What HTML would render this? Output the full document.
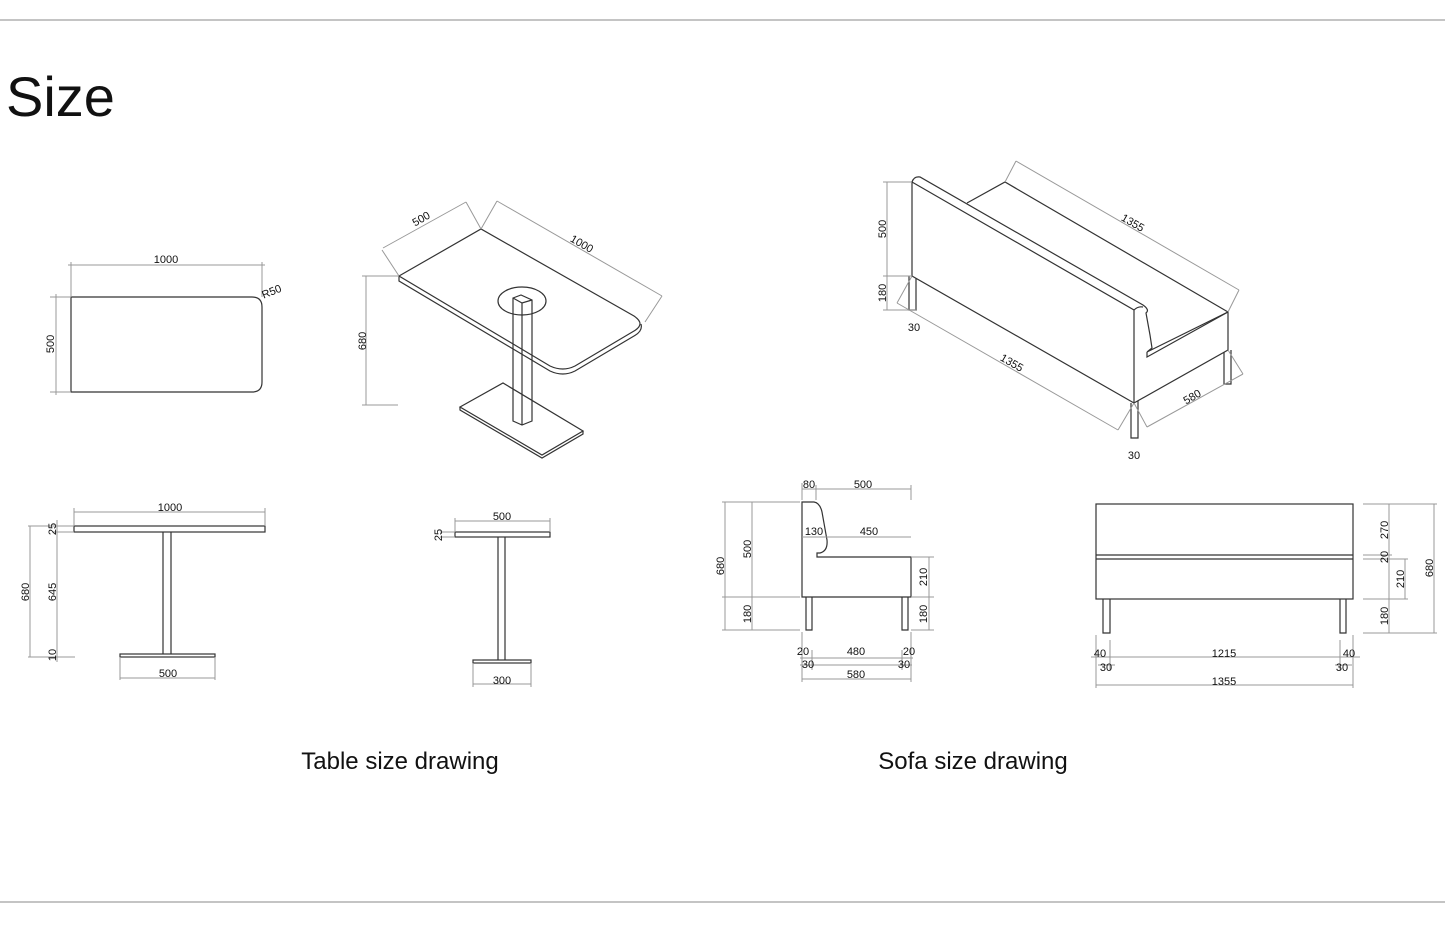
<!DOCTYPE html>
<html><head><meta charset="utf-8"><style>
html,body{margin:0;padding:0;background:#fff}
svg{display:block}
text{font-family:"Liberation Sans",sans-serif;fill:#111}
.d{stroke:#999;stroke-width:1;fill:none}
.o{stroke:#333;stroke-width:1.2;fill:none}
.t{font-size:11px}
</style></head><body>
<svg width="1445" height="935" viewBox="0 0 1445 935" xmlns="http://www.w3.org/2000/svg">
<line x1="0" y1="20" x2="1445" y2="20" stroke="#888"/>
<line x1="0" y1="902" x2="1445" y2="902" stroke="#888"/>
<text x="6" y="116" style="font-size:56px">Size</text>

<!-- plan table -->
<path class="o" d="M71 297 H252 Q262 297 262 307 V382 Q262 392 252 392 H71 Z"/>
<path class="d" d="M71 262 V297 M262 262 V297 M68 265 H265 M50 297 H71 M50 392 H71 M56 294 V395"/>
<text class="t" x="166" y="263" text-anchor="middle">1000</text>
<text class="t" transform="translate(54,344) rotate(-90)" text-anchor="middle">500</text>
<text class="t" transform="translate(273,295) rotate(-22)" text-anchor="middle">R50</text>

<!-- iso table -->
<path class="o" d="M399 276 L481 229 L634 316 Q646 324 634 331 L575 366 Q563 372 550 366 Z"/>
<path class="o" d="M399 276 V281 L550 371 Q563 377 575 371 L634 336 Q643 331 641 324"/>
<ellipse class="o" cx="522" cy="301" rx="24" ry="14"/>
<path class="o" d="M513 298 L521 295 L532 300 V421 L522 425 L513 421 Z M522 303 V425 M513 298 L522 303 L532 300"/>
<path class="o" d="M460 407 L503 383 L583 431 L542 455 Z M460 407 V410 L542 458 L583 434 V431"/>
<path class="d" d="M366 276 V405 M362 276 H399 M362 405 H398 M382 250 L399 276 M383 248 L466 202 M466 202 L481 229 M481 229 L497 201 M497 201 L662 296 M662 296 L645 322"/>
<text class="t" transform="translate(366,341) rotate(-90)" text-anchor="middle">680</text>
<text class="t" transform="translate(423,222) rotate(-30)" text-anchor="middle">500</text>
<text class="t" transform="translate(580,247) rotate(30)" text-anchor="middle">1000</text>

<!-- front table -->
<rect class="o" x="74" y="526" width="191" height="6"/>
<path class="o" d="M163 532 V654 M171 532 V654"/>
<rect class="o" x="120" y="654" width="95" height="3"/>
<path class="d" d="M74 508 V526 M265 508 V526 M74 512 H265 M120 657 V680 M215 657 V680 M120 678 H215 M28 526 H74 M28 657 H75 M30 526 V657 M57 520 V662 M52 532 H74"/>
<text class="t" x="170" y="511" text-anchor="middle">1000</text>
<text class="t" x="168" y="677" text-anchor="middle">500</text>
<text class="t" transform="translate(29,592) rotate(-90)" text-anchor="middle">680</text>
<text class="t" transform="translate(56,592) rotate(-90)" text-anchor="middle">645</text>
<text class="t" transform="translate(56,529) rotate(-90)" text-anchor="middle">25</text>
<text class="t" transform="translate(56,655) rotate(-90)" text-anchor="middle">10</text>

<!-- side table -->
<rect class="o" x="455" y="532" width="95" height="5"/>
<path class="o" d="M498 537 V660 M505 537 V660"/>
<rect class="o" x="473" y="660" width="58" height="3"/>
<path class="d" d="M455 518 V532 M550 518 V532 M455 521 H550 M473 663 V687 M531 663 V687 M473 684 H531 M440 532 H455 M440 537 H455"/>
<text class="t" x="502" y="520" text-anchor="middle">500</text>
<text class="t" x="502" y="684" text-anchor="middle">300</text>
<text class="t" transform="translate(442,535) rotate(-90)" text-anchor="middle">25</text>

<!-- iso sofa -->
<path class="o" d="M912 182 Q914 176 920 177 L1143 305 Q1150 310 1146 313 L1150 335 L1152 348 L1147 352 L1228 312 V350 L1134 403 V310 L912 182 V276 L1134 403"/>
<path class="o" d="M1134 310 Q1138 306 1143 307 M1147 352 V357 L1228 312 M967 203 L1005 182 L1228 312"/>
<path class="o" d="M909 276 V310 H916 V278 M1131 403 V438 H1138 V401 M1224 352 V384 H1231 V350"/>
<path class="d" d="M883 182 H912 M883 276 H912 M883 310 H916 M887 182 V310 M1016 161 L1239 290 M1005 182 L1016 161 M1228 312 L1239 290 M897 303 L1118 430 M897 303 L912 276 M1118 430 L1134 403 M1147 427 L1243 374 M1134 403 L1147 427 M1228 350 L1243 374"/>
<text class="t" transform="translate(886,229) rotate(-90)" text-anchor="middle">500</text>
<text class="t" transform="translate(886,293) rotate(-90)" text-anchor="middle">180</text>
<text class="t" transform="translate(1131,226) rotate(30)" text-anchor="middle">1355</text>
<text class="t" transform="translate(1010,366) rotate(30)" text-anchor="middle">1355</text>
<text class="t" transform="translate(1194,400) rotate(-30)" text-anchor="middle">580</text>
<text class="t" x="914" y="331" text-anchor="middle">30</text>
<text class="t" x="1134" y="459" text-anchor="middle">30</text>

<!-- sofa side -->
<path class="o" d="M802 597 V502 H814 Q820 503 822 512 L827 540 Q828 551 820 553 H817 V557 H911 V597 Z"/>
<path class="o" d="M806 597 V630 H812 V597 M902 597 V630 H908 V597"/>
<path class="d" d="M722 502 H800 M722 597 H800 M722 630 H800 M725 502 V630 M752 502 V630 M802 483 V500 M816 485 V500 M911 485 V500 M802 489 H911 M802 537 H911 M911 557 H934 M911 597 H934 M911 630 H934 M929 557 V630 M802 632 V682 M812 650 V670 M902 650 V670 M911 632 V682 M800 658 H913 M800 665 H912 M802 679 H911"/>
<text class="t" x="809" y="488" text-anchor="middle">80</text>
<text class="t" x="863" y="488" text-anchor="middle">500</text>
<text class="t" x="814" y="535" text-anchor="middle">130</text>
<text class="t" x="869" y="535" text-anchor="middle">450</text>
<text class="t" transform="translate(724,566) rotate(-90)" text-anchor="middle">680</text>
<text class="t" transform="translate(751,549) rotate(-90)" text-anchor="middle">500</text>
<text class="t" transform="translate(751,614) rotate(-90)" text-anchor="middle">180</text>
<text class="t" transform="translate(927,577) rotate(-90)" text-anchor="middle">210</text>
<text class="t" transform="translate(927,614) rotate(-90)" text-anchor="middle">180</text>
<text class="t" x="803" y="655" text-anchor="middle">20</text>
<text class="t" x="856" y="655" text-anchor="middle">480</text>
<text class="t" x="909" y="655" text-anchor="middle">20</text>
<text class="t" x="808" y="668" text-anchor="middle">30</text>
<text class="t" x="904" y="668" text-anchor="middle">30</text>
<text class="t" x="856" y="678" text-anchor="middle">580</text>

<!-- sofa front -->
<rect class="o" x="1096" y="504" width="257" height="95"/>
<path class="o" d="M1096 555 H1353 M1096 559 H1353"/>
<path class="o" d="M1103 599 V633 H1110 V599 M1340 599 V633 H1346 V599"/>
<path class="d" d="M1363 504 H1437 M1363 555 H1392 M1363 559 H1408 M1363 599 H1408 M1363 633 H1437 M1389 504 V633 M1405 559 V599 M1434 504 V633 M1096 635 V688 M1110 640 V670 M1340 640 V670 M1353 635 V688 M1091 657 H1360 M1098 665 H1115 M1335 665 H1352 M1096 685 H1353"/>
<text class="t" transform="translate(1388,530) rotate(-90)" text-anchor="middle">270</text>
<text class="t" transform="translate(1388,557) rotate(-90)" text-anchor="middle">20</text>
<text class="t" transform="translate(1404,579) rotate(-90)" text-anchor="middle">210</text>
<text class="t" transform="translate(1388,616) rotate(-90)" text-anchor="middle">180</text>
<text class="t" transform="translate(1433,568) rotate(-90)" text-anchor="middle">680</text>
<text class="t" x="1100" y="657" text-anchor="middle">40</text>
<text class="t" x="1224" y="657" text-anchor="middle">1215</text>
<text class="t" x="1349" y="657" text-anchor="middle">40</text>
<text class="t" x="1106" y="671" text-anchor="middle">30</text>
<text class="t" x="1342" y="671" text-anchor="middle">30</text>
<text class="t" x="1224" y="685" text-anchor="middle">1355</text>

<text x="400" y="769" text-anchor="middle" style="font-size:24px">Table size drawing</text>
<text x="973" y="769" text-anchor="middle" style="font-size:24px">Sofa size drawing</text>
</svg>
</body></html>
